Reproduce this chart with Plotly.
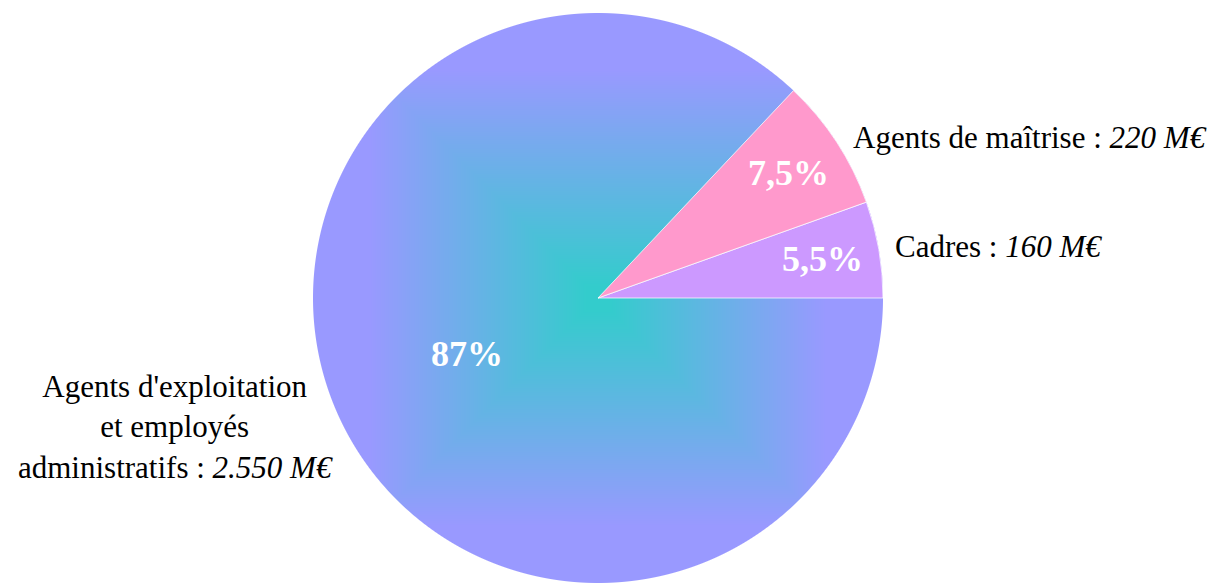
import base64
import math
import struct
import zlib

import numpy as np
import plotly.graph_objects as go

# Masse salariale par catégorie (M€)
categories = ["Cadres", "Agents de maîtrise", "Agents d'exploitation<br>et employés<br>administratifs"]
values_meur = [160, 220, 2550]
slice_colors = ["#cc99ff", "#ff99cc", "rgba(0,0,0,0)"]

W, H = 1212, 583
CX, R = 598, 285           # pie centre (px) and radius
TOP = 13                   # gap above the pie (px)
CY = TOP + R

GRAD_INNER = (51, 204, 204)
GRAD_OUTER = (153, 153, 255)


def fmt_pct(p):
    s = f"{p:.1f}"
    if s.endswith(".0"):
        s = s[:-2]
    return s.replace(".", ",") + "%"


def fmt_meur(v):
    return f"{v:,}".replace(",", ".") + " M€"


def png_data_uri(rgba):
    h, w, _ = rgba.shape
    raw = b"".join(b"\x00" + rgba[i].tobytes() for i in range(h))

    def chunk(tag, data):
        c = struct.pack(">I", len(data)) + tag + data
        return c + struct.pack(">I", zlib.crc32(tag + data) & 0xFFFFFFFF)

    png = (b"\x89PNG\r\n\x1a\n"
           + chunk(b"IHDR", struct.pack(">IIBBBBB", w, h, 8, 6, 0, 0, 0))
           + chunk(b"IDAT", zlib.compress(raw, 9))
           + chunk(b"IEND", b""))
    return "data:image/png;base64," + base64.b64encode(png).decode()


# Square "from centre" fill gradient, masked to the pie disc
n = 2 * R
yy, xx = np.mgrid[0:n, 0:n] + 0.5
dx, dy = xx - R, yy - R
t = np.maximum(np.abs(dx), np.abs(dy)) / R
s = np.clip((t - 0.04) / 0.76, 0, 1)[..., None]
inner = np.array(GRAD_INNER, float)
outer = np.array(GRAD_OUTER, float)
rgb = inner + (outer - inner) * s
alpha = np.clip(R - np.hypot(dx, dy) + 0.5, 0, 1)[..., None] * 255
img = np.concatenate([rgb, alpha], axis=2).round().astype(np.uint8)

total = sum(values_meur)
pcts = [100 * v / total for v in values_meur]

# plotly starts a counterclockwise pie one slice "late": shift so the
# first slice begins exactly at 3 o'clock
rotation = 90 - 360 * values_meur[0] / total

fig = go.Figure(go.Pie(
    labels=categories,
    values=values_meur,
    sort=False,
    direction="counterclockwise",
    rotation=rotation,
    textinfo="none",
    hoverinfo="skip",
    showlegend=False,
    marker=dict(colors=slice_colors,
                line=dict(color="rgba(255,255,255,0.75)", width=[1, 1, 0])),
    domain=dict(x=[(CX - R) / W, (CX + R) / W], y=[0, (H - TOP) / H]),
))

fig.add_layout_image(
    source=png_data_uri(img), xref="paper", yref="paper",
    x=(CX - R) / W, y=1 - TOP / H, sizex=2 * R / W, sizey=2 * R / H,
    xanchor="left", yanchor="top", sizing="stretch", layer="below",
)


def paper_xy(angle_deg, frac):
    a = math.radians(angle_deg)
    px = CX + frac * R * math.cos(a)
    py = CY - frac * R * math.sin(a)
    return px / W, 1 - py / H


serif = "Liberation Serif, Times New Roman, serif"
pct_radius = [0.8, 0.8, 0.5]
# outer label placement: anchor, pixel shifts
label_style = [
    dict(xanchor="left", xshift=14, yshift=3),
    dict(xanchor="left", xshift=14, yshift=5),
    dict(xanchor="right", xshift=-1, yshift=-16),
]

start = 0.0
for cat, v, p, fr, st in zip(categories, values_meur, pcts, pct_radius, label_style):
    sweep = 360 * v / total
    mid = start + sweep / 2
    start += sweep
    x, y = paper_xy(mid, fr)
    fig.add_annotation(
        x=x, y=y, xref="paper", yref="paper", text=fmt_pct(p), showarrow=False,
        font=dict(family=serif, size=36, color="white", weight="bold"),
        xanchor="center", yanchor="middle",
    )
    x, y = paper_xy(mid, 1.0)
    fig.add_annotation(
        x=x, y=y, xref="paper", yref="paper",
        text=f"{cat} : <i>{fmt_meur(v)}</i>", showarrow=False,
        font=dict(family=serif, size=31, color="black"),
        align="center", yanchor="middle", **st,
    )

fig.update_layout(
    width=W, height=H,
    margin=dict(l=0, r=0, t=0, b=0),
    paper_bgcolor="white", plot_bgcolor="white",
)

fig.write_html("out.html")
